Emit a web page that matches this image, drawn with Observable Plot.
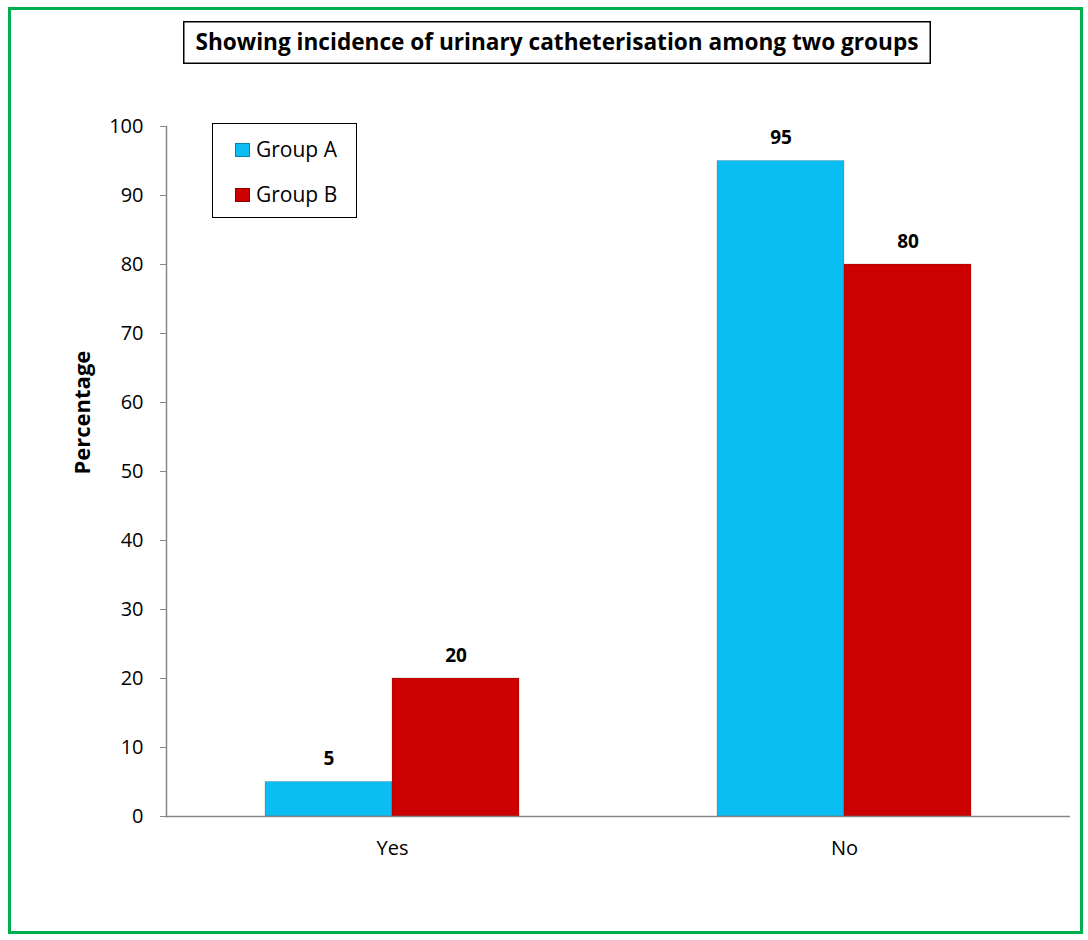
<!DOCTYPE html>
<html>
<head>
<meta charset="utf-8">
<script src="https://cdn.jsdelivr.net/npm/d3@7"></script>
<script src="https://cdn.jsdelivr.net/npm/@observablehq/plot@0.6"></script>
<style>
  body { margin: 0; background: #fff; font-family: "Open Sans", Lato, sans-serif; }
  #wrap { position: relative; width: 1088px; height: 940px; }
  #frame { position: absolute; left: 8px; top: 7px; width: 1075px; height: 927px; border: 3px solid #00B050; box-sizing: border-box; }
  #chart { position: absolute; left: 0; top: 0; }
  #title { position: absolute; left: 183px; top: 21px; }
  #legend { position: absolute; left: 212px; top: 123px; width: 145px; height: 95px; border: 1.5px solid #000; box-sizing: border-box; background: #fff; font-size: 21px; }
  .sw { position: absolute; width: 15px; height: 14px; box-sizing: border-box; }
  .lt { position: absolute; line-height: 24px; white-space: nowrap; color: #000; }
</style>
</head>
<body>
<div id="wrap">
  <div id="frame"></div>
  <div id="chart"></div>
  <svg id="title" width="748" height="43" xmlns="http://www.w3.org/2000/svg">
    <rect x="0.75" y="0.75" width="746.5" height="41.5" fill="#fff" stroke="#000" stroke-width="1.5"></rect>
    <text x="374" y="29" text-anchor="middle" font-family="'Open Sans', Lato, sans-serif" font-weight="bold" font-size="23" textLength="723" lengthAdjust="spacingAndGlyphs" fill="#000">Showing incidence of urinary catheterisation among two groups</text>
  </svg>
  <div id="legend"></div>
</div>
<script>
const categories = ["Yes", "No"];
const groups = ["Group A", "Group B"];
const groupA = [5, 95];
const groupB = [20, 80];
const yTicks = [0, 10, 20, 30, 40, 50, 60, 70, 80, 90, 100];
const colors = ["#0ABEF4", "#CC0000"];

const data = [];
categories.forEach((c, i) => {
  data.push({cat: c, group: groups[0], value: groupA[i]});
  data.push({cat: c, group: groups[1], value: groupB[i]});
});

const chart = Plot.plot({
  width: 1088,
  height: 940,
  marginLeft: 166,
  marginRight: 18,
  marginTop: 126,
  marginBottom: 124,
  style: {fontFamily: "'Open Sans', Lato, sans-serif", fontSize: "20px", color: "#000", background: "transparent"},
  fx: {domain: categories, padding: 0, label: null},
  x: {domain: groups, paddingInner: 0, paddingOuter: 0.77, axis: null},
  y: {domain: [0, 100], label: null},
  color: {domain: groups, range: colors},
  marks: [
    Plot.axisY({ticks: yTicks, tickSize: 6, tickPadding: 17, stroke: "#868686", fill: "#000", fontSize: 20, label: null}),
    Plot.axisFx({anchor: "bottom", tickSize: 0, tickPadding: 24, fontSize: 20, label: null}),
    Plot.barY(data, {fx: "cat", x: "group", y: "value", fill: "group", stroke: "rgba(0,0,0,0.15)", strokeWidth: 1}),
    Plot.text(data, {fx: "cat", x: "group", y: "value", text: d => String(d.value), dy: -23, fontWeight: "bold", fontSize: 19, fill: "#000"}),
    Plot.ruleY([0], {stroke: "#868686", strokeWidth: 1.5}),
    Plot.frame({anchor: "left", facetAnchor: "left", stroke: "#868686", strokeWidth: 1.5}),
    Plot.text(["Percentage"], {frameAnchor: "left", dx: -84, dy: 3, rotate: -90, fontWeight: "bold", fontSize: 22, fill: "#000", facetAnchor: "left"})
  ]
});
document.getElementById("chart").appendChild(chart);

const legend = document.getElementById("legend");
groups.forEach((g, i) => {
  const sw = document.createElement("div");
  sw.className = "sw";
  sw.style.left = "22px";
  sw.style.top = (19 + i * 45) + "px";
  sw.style.background = colors[i];
  sw.style.border = "1px solid rgba(0,0,0,0.3)";
  const t = document.createElement("div");
  t.className = "lt";
  t.style.left = "43px";
  t.style.top = (13 + i * 45) + "px";
  t.textContent = g;
  legend.appendChild(sw);
  legend.appendChild(t);
});
</script>
</body>
</html>
